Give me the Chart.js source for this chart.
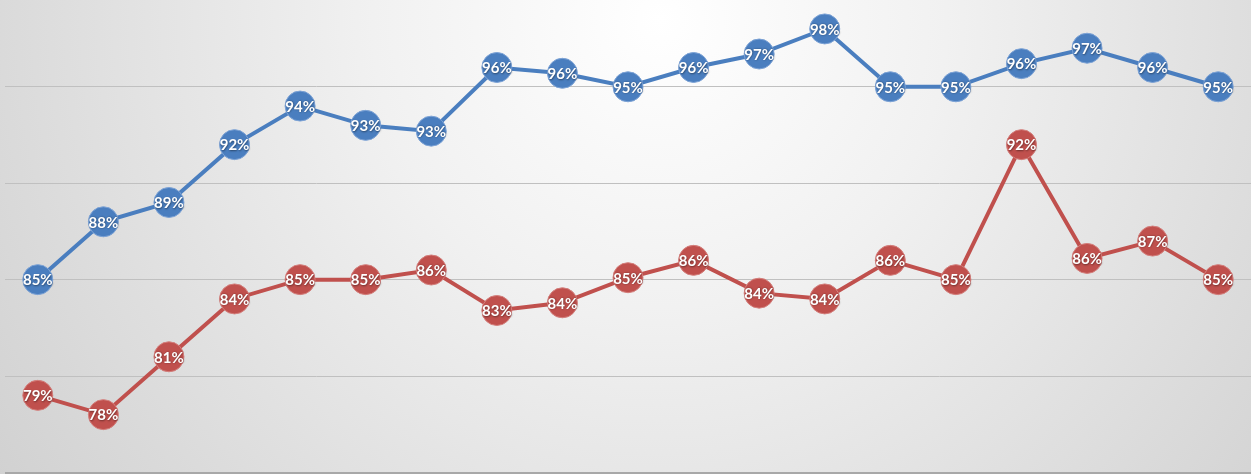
<!DOCTYPE html>
<html>
<head>
<meta charset="utf-8">
<script src="https://cdn.jsdelivr.net/npm/chart.js@4"></script>
<style>
html,body{margin:0;padding:0;background:#e8e8e8;}
#wrap{width:1251px;height:474px;position:relative;}
</style>
</head>
<body>
<div id="wrap"><canvas id="c" width="1251" height="474"></canvas></div>
<script>
const categories = ['1','2','3','4','5','6','7','8','9','10','11','12','13','14','15','16','17','18','19'];
const blueValues = [85, 88, 89, 92, 94, 93, 92.7, 96, 95.7, 95, 96, 96.7, 98, 95, 95, 96.2, 97, 96, 95];
const redValues  = [79, 78, 81, 84, 85, 85, 85.5, 83.4, 83.8, 85.1, 86, 84.3, 84, 86, 85, 92, 86.1, 87, 85];
const yTicks = [75, 80, 85, 90, 95];

const bgPlugin = {
  id: 'bg',
  beforeDraw(chart) {
    const ctx = chart.ctx;
    const w = chart.width, h = chart.height;
    ctx.save();
    const g = ctx.createRadialGradient(660, 20, 0, 660, 20, 820);
    g.addColorStop(0, '#ffffff');
    g.addColorStop(0.35, '#f1f1f1');
    g.addColorStop(1, '#d0d0d0');
    ctx.fillStyle = g;
    ctx.fillRect(0, 0, w, h);
    ctx.restore();
  }
};

const labelPlugin = {
  id: 'pointLabels',
  afterDatasetsDraw(chart) {
    const ctx = chart.ctx;
    ctx.save();
    ctx.font = 'bold 15px Lato, "Open Sans", sans-serif';
    ctx.textAlign = 'center';
    ctx.textBaseline = 'middle';
    ctx.fillStyle = '#ffffff';
    ctx.shadowColor = 'rgba(0,0,0,0.45)';
    ctx.shadowBlur = 2;
    ctx.shadowOffsetX = 0.5;
    ctx.shadowOffsetY = 0.5;
    chart.data.datasets.forEach((ds, di) => {
      const meta = chart.getDatasetMeta(di);
      meta.data.forEach((pt, i) => {
        const v = ds.data[i];
        ctx.fillText(Math.round(v) + '%', pt.x, pt.y + 1);
      });
    });
    ctx.restore();
  }
};

new Chart(document.getElementById('c'), {
  type: 'line',
  data: {
    labels: categories,
    datasets: [
      {
        data: redValues,
        borderColor: '#C0504D',
        backgroundColor: '#C0504D',
        pointBackgroundColor: '#C0504D',
        pointBorderColor: '#d47f7c',
        pointBorderWidth: 1,
        pointRadius: 15,
        borderWidth: 4,
        tension: 0,
        clip: false
      },
      {
        data: blueValues,
        borderColor: '#4A7EBF',
        backgroundColor: '#4A7EBF',
        pointBackgroundColor: '#4A7EBF',
        pointBorderColor: '#7da3d6',
        pointBorderWidth: 1,
        pointRadius: 15,
        borderWidth: 4,
        tension: 0,
        clip: false
      }
    ]
  },
  options: {
    responsive: false,
    animation: false,
    devicePixelRatio: 1,
    layout: { autoPadding: false, padding: { left: 5, right: 0, top: 0, bottom: 1.5 } },
    plugins: { legend: { display: false }, tooltip: { enabled: false } },
    scales: {
      x: {
        type: 'category',
        offset: true,
        display: false
      },
      y: {
        min: 75,
        max: 99.5,
        afterBuildTicks(scale) { scale.ticks = yTicks.map(v => ({ value: v })); },
        ticks: { display: false },
        border: { display: false },
        grid: {
          drawTicks: false,
          lineWidth: (c) => c.tick && c.tick.value === 75 ? 2 : 1,
          color: (c) => c.tick && c.tick.value === 75 ? '#a8a8a8' : '#c0c0c0'
        }
      }
    }
  },
  plugins: [bgPlugin, labelPlugin]
});
</script>
</body>
</html>
